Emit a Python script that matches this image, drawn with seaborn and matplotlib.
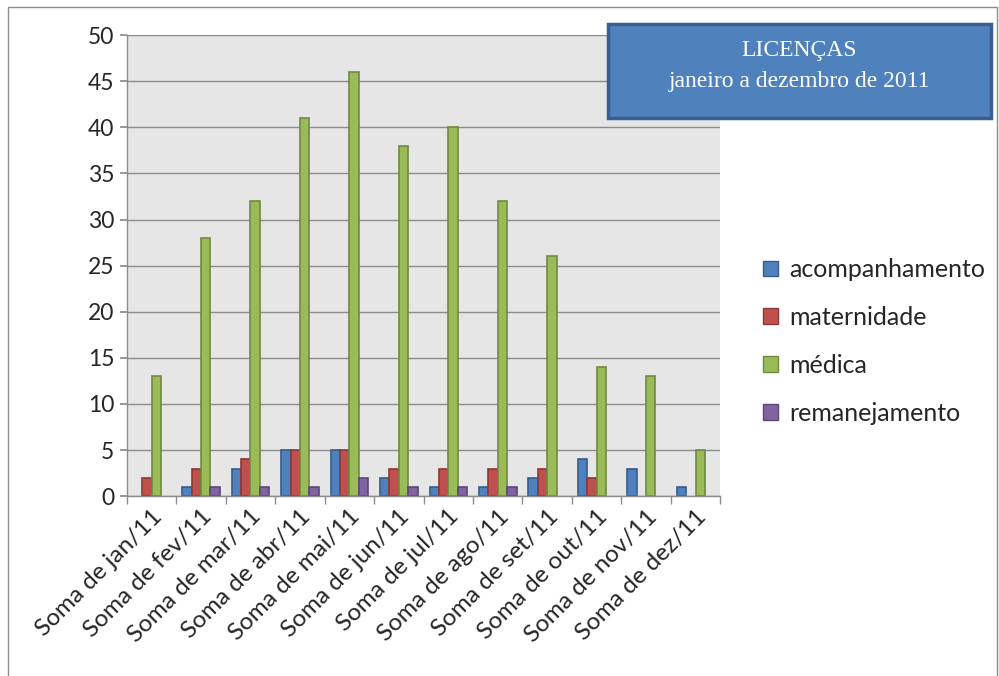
import matplotlib
matplotlib.use("Agg")
import matplotlib.pyplot as plt
import seaborn as sns
import pandas as pd
from matplotlib.patches import Rectangle, FancyBboxPatch

categories = ["Soma de jan/11", "Soma de fev/11", "Soma de mar/11", "Soma de abr/11",
              "Soma de mai/11", "Soma de jun/11", "Soma de jul/11", "Soma de ago/11",
              "Soma de set/11", "Soma de out/11", "Soma de nov/11", "Soma de dez/11"]
series = ["acompanhamento", "maternidade", "médica", "remanejamento"]
acompanhamento = [0, 1, 3, 5, 5, 2, 1, 1, 2, 4, 3, 1]
maternidade = [2, 3, 4, 5, 5, 3, 3, 3, 3, 2, 0, 0]
medica = [13, 28, 32, 41, 46, 38, 40, 32, 26, 14, 13, 5]
remanejamento = [0, 1, 1, 1, 2, 1, 1, 1, 0, 0, 0, 0]
title_lines = ["LICENÇAS", "janeiro a dezembro de 2011"]

colors = ["#4f81bd", "#c0504d", "#9bbb59", "#8064a2"]
edges = ["#385d8a", "#8c3836", "#71893f", "#5c4776"]

rows = []
for s, vals in zip(series, [acompanhamento, maternidade, medica, remanejamento]):
    for c, v in zip(categories, vals):
        rows.append({"mes": c, "tipo": s, "valor": v})
df = pd.DataFrame(rows)

sns.set_theme(style="white")
plt.rcParams["font.family"] = ["Lato", "DejaVu Sans"]

fig = plt.figure(figsize=(9.99, 6.76), dpi=100)
ax = fig.add_axes([0.127, 0.266, 0.594, 0.682])
sns.barplot(data=df, x="mes", y="valor", hue="tipo", order=categories, hue_order=series,
            palette=colors, width=0.76, ax=ax, linewidth=1.2, saturation=1, legend=False,
            errorbar=None)

n = len(categories)
for i, bar in enumerate(ax.patches[: n * len(series)]):
    k = i // n
    bar.set_edgecolor(edges[k])
    if bar.get_height() == 0:
        bar.set_visible(False)

ax.set_facecolor("#e6e6e6")
ax.set_ylim(0, 50)
ax.set_xlim(-0.5, n - 0.5)
ax.set_yticks(range(0, 51, 5))
ax.yaxis.grid(True, color="#8c8c8c", linewidth=1)
ax.set_axisbelow(True)
for sp in ["top", "right"]:
    ax.spines[sp].set_visible(False)
for sp in ["left", "bottom"]:
    ax.spines[sp].set_color("#8c8c8c")
    ax.spines[sp].set_linewidth(1)
ax.set_xlabel("")
ax.set_ylabel("")
ax.tick_params(axis="y", labelsize=16.5, length=5, color="#8c8c8c", direction="out", left=True, pad=4)
ax.set_xticks(range(n))
ax.set_xticklabels(categories, rotation=45, ha="right", rotation_mode="anchor", fontsize=17.5)
ax.tick_params(axis="x", length=0, pad=7)
ax.set_xticks([i - 0.5 for i in range(n + 1)], minor=True)
ax.tick_params(axis="x", which="minor", length=6, color="#8c8c8c", direction="out", bottom=True)

handles = [Rectangle((0, 0), 1, 1, facecolor=c, edgecolor=e, linewidth=1) for c, e in zip(colors, edges)]
fig.legend(handles, series, loc="center left", bbox_to_anchor=(0.764, 0.495), frameon=False,
           fontsize=18, handlelength=0.6, handleheight=0.6, handletextpad=0.45,
           labelspacing=0.99, borderpad=0, borderaxespad=0)

box = FancyBboxPatch((0.609, 0.825), 0.383, 0.140, boxstyle="square,pad=0",
                     transform=fig.transFigure, facecolor="#4f81bd", edgecolor="#3a5f8f",
                     linewidth=2.5, zorder=5)
fig.patches.append(box)
fig.text(0.8, 0.925, title_lines[0], ha="center", va="center", color="white",
         fontsize=17, family=["Liberation Serif", "DejaVu Serif"], zorder=6)
fig.text(0.8, 0.879, title_lines[1], ha="center", va="center", color="white",
         fontsize=17, family=["Liberation Serif", "DejaVu Serif"], zorder=6)

border = Rectangle((0.008, -0.01), 0.99, 1.0, transform=fig.transFigure, fill=False,
                   edgecolor="#8c8c8c", linewidth=1)
fig.patches.append(border)

fig.savefig("out.png", dpi=100, facecolor="white")
